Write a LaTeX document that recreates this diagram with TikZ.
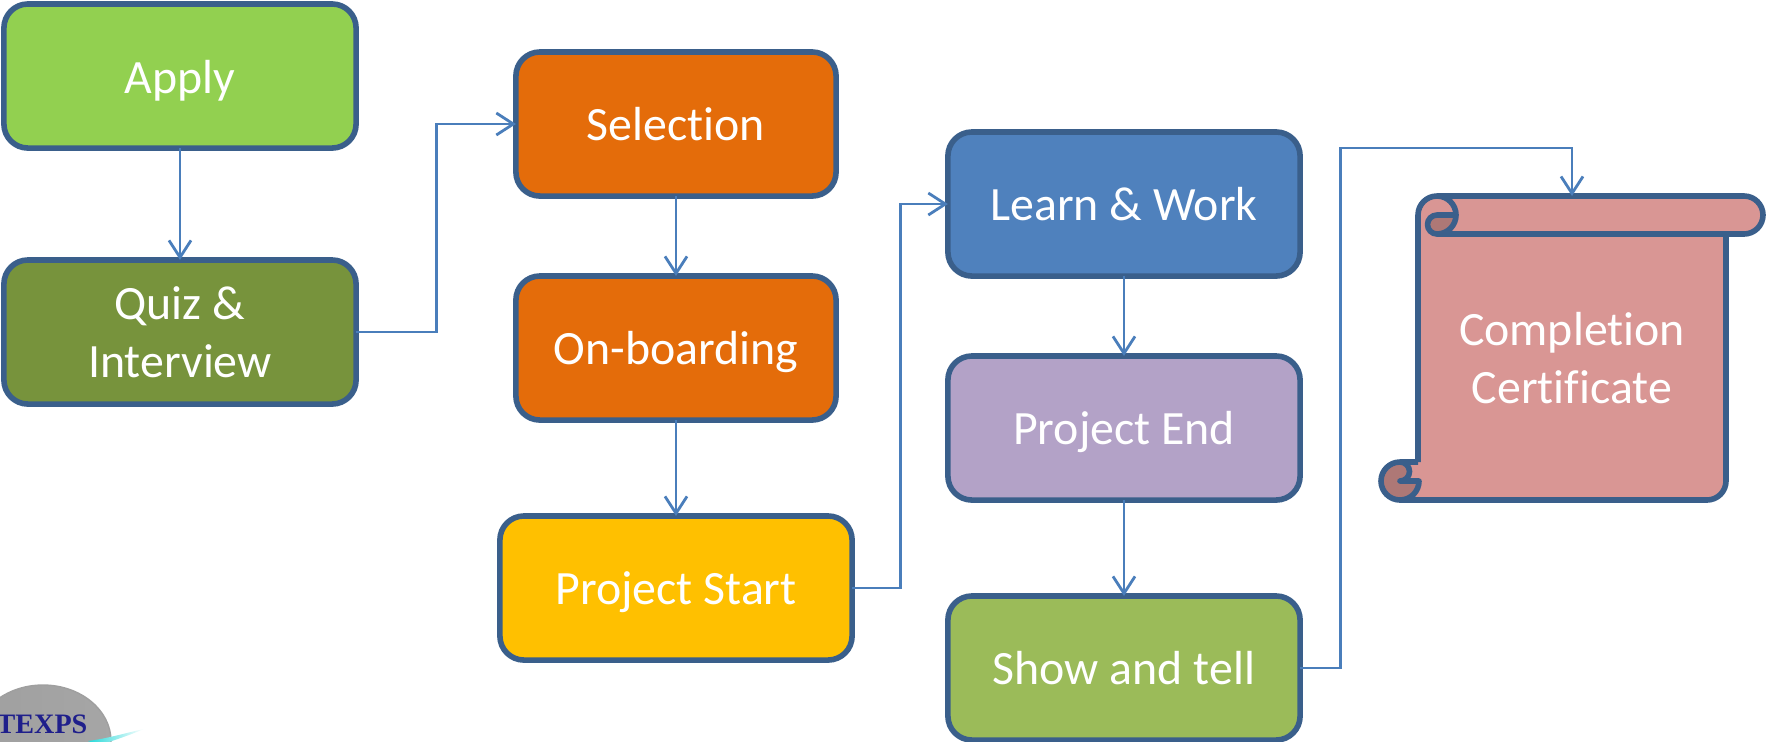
\documentclass[tikz,border=0pt]{standalone}
\usepackage{fontspec}
\setmainfont[Ligatures=NoCommon]{Carlito}
\newfontfamily\logofont{Liberation Serif}
\usetikzlibrary{arrows.meta, positioning}
\definecolor{CBorder}{HTML}{3A5F8B}
\definecolor{CLine}{HTML}{4A7EBB}
\definecolor{CApply}{HTML}{92D050}
\definecolor{CQuiz}{HTML}{77933C}
\definecolor{COrange}{HTML}{E46C0A}
\definecolor{CYellow}{HTML}{FFC000}
\definecolor{CBlue}{HTML}{4F81BD}
\definecolor{CPurple}{HTML}{B3A2C7}
\definecolor{CShow}{HTML}{9BBB59}
\definecolor{CScroll}{HTML}{D99694}
\definecolor{CScrollDark}{HTML}{AE7876}
\definecolor{CLogoText}{HTML}{1F1F8B}
\tikzset{
    stagebox/.style={draw=CBorder, line width=0.056cm, rounded corners=0.24cm, minimum height=1.44cm,
        minimum width=3.52cm, outer sep=0pt, text=white, align=center, font=\fontsize{13.6}{16.5}\selectfont},
    oneline/.style={text height=0.41cm, text depth=0.08cm},
    flowline/.style={draw=CLine, line width=0.028cm, -{Straight Barb[length=0.17cm, width=0.22cm]}},
    scrolledge/.style={draw=CBorder, line width=0.056cm, line join=round}
}

\begin{document}
\begin{tikzpicture}[x=0.01cm, y=-0.01cm]
    \useasboundingbox (0,0) rectangle (1766,741);

    % Logo
    \shade[draw=gray!75, left color=gray!75, middle color=gray!45, right color=gray!70] (43,741) ellipse (68 and 56);
    \node[font=\logofont\bfseries\fontsize{8}{9}\selectfont, text=CLogoText, anchor=base west, inner sep=0] (logotext) at (-4,733) {TEXPS};
    \shade[left color=cyan!70!gray, right color=white] (88,741) .. controls (110,738) and (125,733) .. (144,729) .. controls (130,735) and (115,740) .. (100,745) -- cycle;

    % Stages
    \node[stagebox, oneline, text height=0.42cm, fill=CApply] (apply) at (180,76) {Apply};
    \node[stagebox, fill=CQuiz] (quiz) at (180,332) {\rule{0pt}{0.34cm}Quiz \&\\Interview};
    \node[stagebox, oneline, fill=COrange, minimum width=3.2cm] (selection) at (676,124) {Selection};
    \node[stagebox, oneline, fill=COrange, minimum width=3.2cm] (onboard) at (676,348) {On-boarding};
    \node[stagebox, oneline, fill=CYellow] (pstart) at (676,588) {Project Start};
    \node[stagebox, oneline, fill=CBlue] (learn) at (1124,204) {Learn \& Work};
    \node[stagebox, oneline, fill=CPurple] (pend) at (1124,428) {Project End};
    \node[stagebox, oneline, fill=CShow] (show) at (1124,668) {Show and tell};

    % Scroll
    \fill[CScroll] (1418,215) arc[start angle=180, end angle=270, radius=19] -- (1744,196)
        arc[start angle=270, end angle=450, radius=19] -- (1726,234) -- (1726,481)
        arc[start angle=0, end angle=90, radius=19] -- (1400,500)
        arc[start angle=90, end angle=270, radius=19] -- (1418,462) -- cycle;
    \fill[CScrollDark] (1437,215) -- (1456,215) arc[start angle=0, end angle=90, radius=19]
        arc[start angle=90, end angle=270, radius=9.5];
    \fill[CScrollDark] (1400,462) arc[start angle=270, end angle=90, radius=19]
        arc[start angle=90, end angle=0, radius=19] -- (1400,481)
        arc[start angle=90, end angle=-90, radius=9.5];
    \draw[scrolledge] (1418,462) -- (1418,215) arc[start angle=180, end angle=270, radius=19] -- (1744,196)
        arc[start angle=270, end angle=450, radius=19] -- (1437,234)
        arc[start angle=90, end angle=270, radius=9.5] -- (1456,215)
        arc[start angle=0, end angle=-90, radius=19];
    \draw[scrolledge] (1456,215) arc[start angle=0, end angle=90, radius=19];
    \draw[scrolledge] (1726,234) -- (1726,481) arc[start angle=0, end angle=90, radius=19] -- (1400,500)
        arc[start angle=90, end angle=270, radius=19] -- (1418,462);
    \draw[scrolledge] (1400,500) arc[start angle=90, end angle=0, radius=19] -- (1400,481)
        arc[start angle=90, end angle=-90, radius=9.5];
    \node[text=white, align=center, font=\fontsize{13.6}{16.5}\selectfont] (cert) at (1572,358) {Completion\\Certificate};
    \coordinate (certtop) at (1572,196);
    \coordinate (certbend) at (1572,148);

    % Connectors
    \draw[flowline] (apply.south) -- (quiz.north);
    \draw[flowline] (quiz.east) -- ++(80,0) |- (selection.west);
    \draw[flowline] (selection.south) -- (onboard.north);
    \draw[flowline] (onboard.south) -- (pstart.north);
    \draw[flowline] (pstart.east) -- ++(48,0) |- (learn.west);
    \draw[flowline] (learn.south) -- (pend.north);
    \draw[flowline] (pend.south) -- (show.north);
    \draw[flowline] (show.east) -- ++(40,0) |- (certbend) -- (certtop);
\end{tikzpicture}
\end{document}
